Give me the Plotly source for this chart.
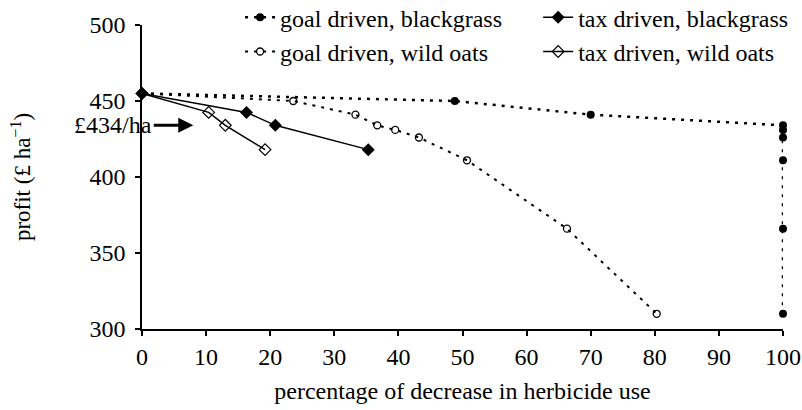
import plotly.graph_objects as go

# data
goal_bg_x = [0, 48.8, 70, 100, 100, 100, 100, 100, 100]
goal_bg_y = [455, 450, 441, 434, 431, 426, 411, 366, 310]
goal_wo_x = [0, 23.6, 33.3, 36.7, 39.5, 43.2, 50.7, 66.3, 80.3]
goal_wo_y = [455, 450, 441, 434, 431, 426, 411, 366, 310]
tax_bg_x = [0, 16.3, 20.8, 35.3]
tax_bg_y = [455, 442.5, 434, 418]
tax_wo_x = [0, 10.4, 13.0, 19.2]
tax_wo_y = [455, 442.5, 434, 418]
x_ticks = [0, 10, 20, 30, 40, 50, 60, 70, 80, 90, 100]
y_ticks = [300, 350, 400, 450, 500]

FONT = "Liberation Serif"

fig = go.Figure()
fig.add_trace(go.Scatter(x=goal_bg_x, y=goal_bg_y, mode="lines+markers",
                         name="goal driven, blackgrass", legend="legend",
                         line=dict(color="black", width=2.5, dash="3px,6px"),
                         marker=dict(symbol="circle", size=8, color="black"),
                         cliponaxis=False))
fig.add_trace(go.Scatter(x=goal_wo_x, y=goal_wo_y, mode="lines+markers",
                         name="goal driven, wild oats", legend="legend",
                         line=dict(color="black", width=2, dash="3px,6px"),
                         marker=dict(symbol="circle-open", size=7, color="black",
                                     line=dict(width=1.3)),
                         cliponaxis=False))
fig.add_trace(go.Scatter(x=tax_bg_x, y=tax_bg_y, mode="lines+markers",
                         name="tax driven, blackgrass", legend="legend2",
                         line=dict(color="black", width=1.5),
                         marker=dict(symbol="diamond", size=10, color="black"),
                         cliponaxis=False))
fig.add_trace(go.Scatter(x=tax_wo_x, y=tax_wo_y, mode="lines+markers",
                         name="tax driven, wild oats", legend="legend2",
                         line=dict(color="black", width=1.5),
                         marker=dict(symbol="diamond-open", size=9, color="black",
                                     line=dict(width=1.2)),
                         cliponaxis=False))

fig.add_annotation(x=8, y=434, xref="x", yref="y", text="£434/ha",
                   showarrow=True, ax=-80, ay=0, axref="pixel", ayref="pixel",
                   arrowhead=2, arrowsize=1, arrowwidth=3, arrowcolor="black",
                   font=dict(family=FONT, size=24, color="black"))

axis_common = dict(showline=True, linecolor="black", linewidth=1.5,
                   ticks="outside", ticklen=5, tickcolor="black", tickwidth=1.5,
                   showgrid=False, zeroline=False, automargin=False,
                   tickfont=dict(family=FONT, size=24, color="black"))

fig.update_layout(
    width=802, height=410,
    margin=dict(l=142, r=19, t=25, b=81, autoexpand=False),
    paper_bgcolor="white", plot_bgcolor="white",
    font=dict(family=FONT, color="black"),
    xaxis=dict(range=[0, 100], tickvals=x_ticks, **axis_common,
               title=dict(text="percentage of decrease in herbicide use",
                          font=dict(family=FONT, size=24, color="black"),
                          standoff=14)),
    yaxis=dict(range=[300, 500], tickvals=y_ticks, ticklabelstandoff=5,
               **axis_common,
               title=dict(text="profit (£ ha<sup>−1</sup>)",
                          font=dict(family=FONT, size=23, color="black"),
                          standoff=52)),
    legend=dict(x=0.153, y=1.098, xanchor="left", yanchor="top",
                bgcolor="rgba(0,0,0,0)", font=dict(family=FONT, size=24),
                itemwidth=30, tracegroupgap=0),
    legend2=dict(x=0.618, y=1.098, xanchor="left", yanchor="top",
                 bgcolor="rgba(0,0,0,0)", font=dict(family=FONT, size=24),
                 itemwidth=30, tracegroupgap=0),
    showlegend=True,
)

fig.write_html("out.html", post_script="document.body.style.margin='0';",
               config={"displayModeBar": False})
